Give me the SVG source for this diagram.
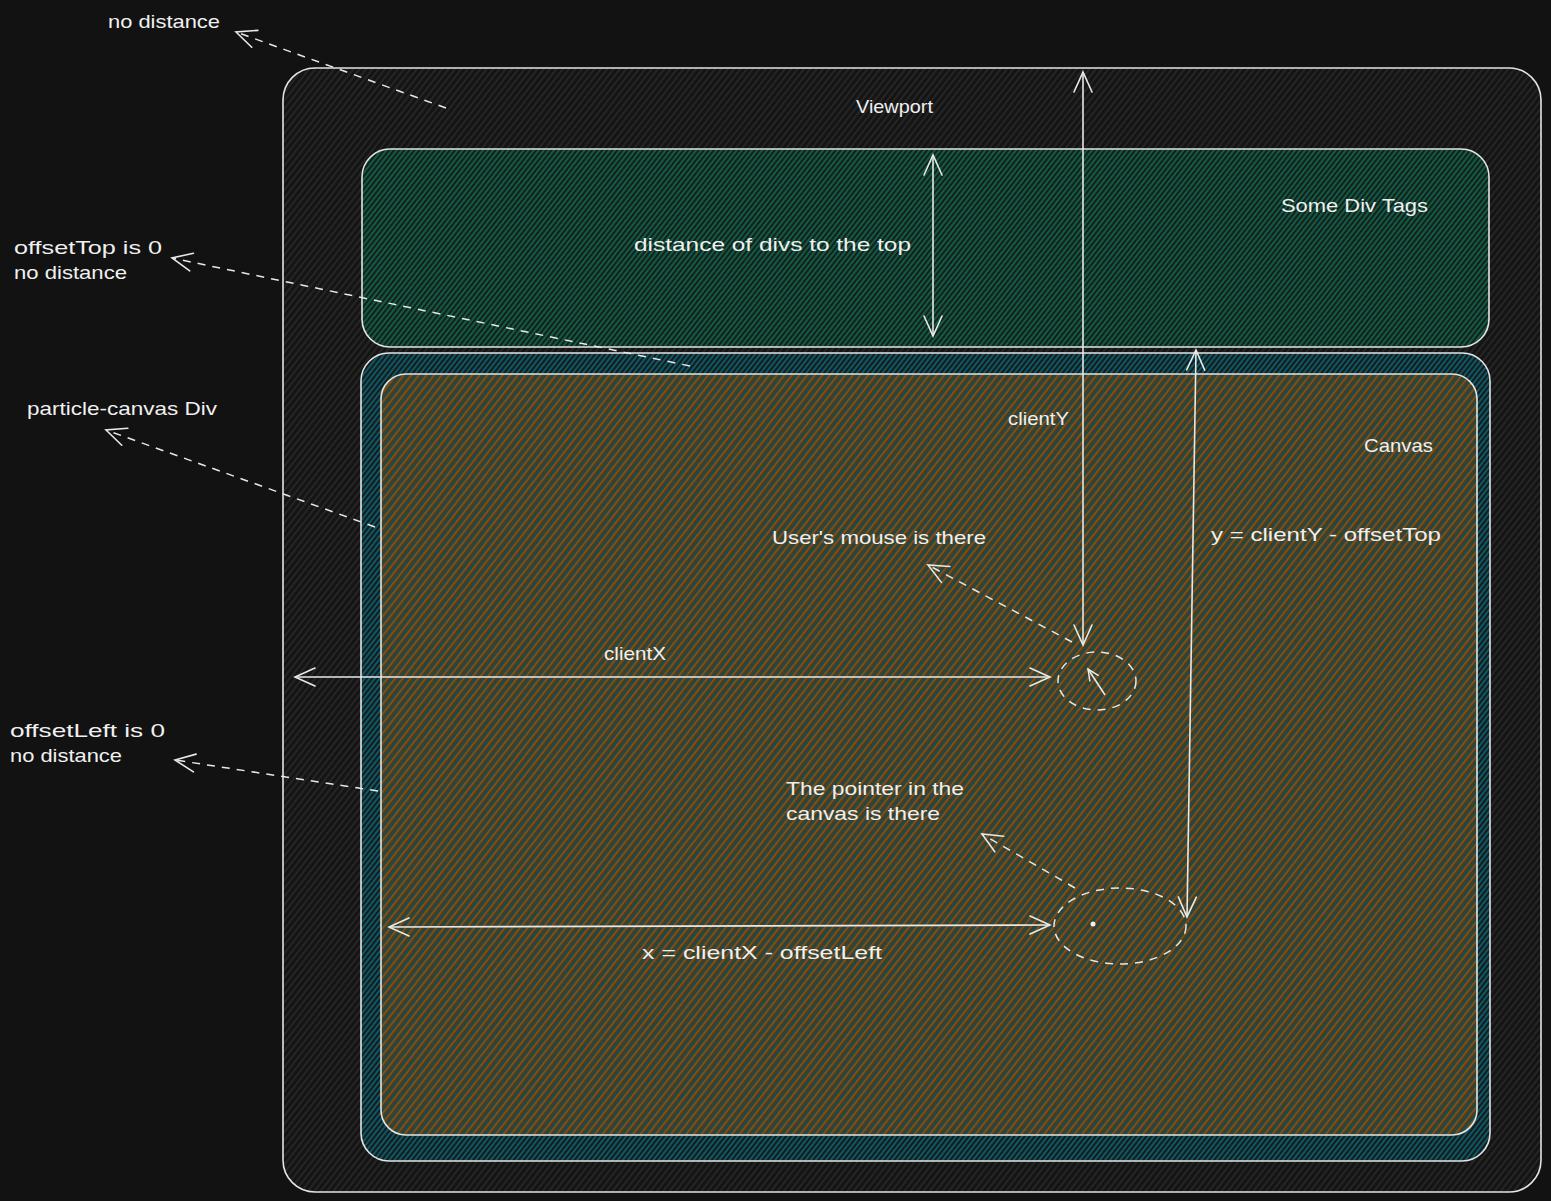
<svg xmlns="http://www.w3.org/2000/svg" width="1551" height="1201" viewBox="0 0 1551 1201">
<defs>
<pattern id="hView" patternUnits="userSpaceOnUse" width="5" height="10" patternTransform="rotate(38)">
<rect width="5" height="10" fill="#141414"/>
<line x1="1" y1="0" x2="1" y2="10" stroke="#2b2b2b" stroke-width="1.4"/>
</pattern>
<pattern id="hGreen" patternUnits="userSpaceOnUse" width="4" height="10" patternTransform="rotate(38)">
<rect width="4" height="10" fill="#15201c"/>
<line x1="1" y1="0" x2="1" y2="10" stroke="#0f6a4e" stroke-width="1.6"/>
</pattern>
<pattern id="hTeal" patternUnits="userSpaceOnUse" width="4" height="10" patternTransform="rotate(38)">
<rect width="4" height="10" fill="#141c1e"/>
<line x1="1" y1="0" x2="1" y2="10" stroke="#0c6674" stroke-width="1.6"/>
</pattern>
<pattern id="hCanvas" patternUnits="userSpaceOnUse" width="6" height="10" patternTransform="rotate(38)">
<rect width="6" height="10" fill="#2c2618"/>
<line x1="1" y1="0" x2="1" y2="10" stroke="#0c5f6c" stroke-width="1.3"/>
<line x1="3" y1="0" x2="3" y2="10" stroke="#8a5214" stroke-width="1.8"/>
<line x1="5" y1="0" x2="5" y2="10" stroke="#5a4a26" stroke-width="1.2"/>
</pattern>
<marker id="ah" viewBox="-22 -12 24 24" markerWidth="24" markerHeight="24" refX="0" refY="0" orient="auto-start-reverse" markerUnits="userSpaceOnUse">
<path d="M -20 -9 L 0 0 L -20 9" fill="none" stroke="#e8e8e8" stroke-width="1.6" stroke-linecap="round"/>
</marker>
<marker id="ahs" viewBox="-12 -8 14 16" markerWidth="14" markerHeight="16" refX="0" refY="0" orient="auto-start-reverse" markerUnits="userSpaceOnUse">
<path d="M -11 -5 L 0 0 L -11 5" fill="none" stroke="#e8e8e8" stroke-width="1.5" stroke-linecap="round"/>
</marker>
</defs>
<style>
.box{stroke:#e4e4e4;stroke-width:1.6}
.t{font-family:"Liberation Sans","DejaVu Sans",sans-serif;font-size:19px;fill:#f0f0f0}
.solid{fill:none;stroke:#e8e8e8;stroke-width:1.6}
.dash{fill:none;stroke:#e8e8e8;stroke-width:1.5;stroke-dasharray:8 7}
</style>
<rect width="1551" height="1201" fill="#121212"/>

<g id="viewport">
<rect class="box" x="283" y="68" width="1258" height="1124" rx="32" fill="url(#hView)"/>
<text class="t" x="856" y="113" textLength="77" lengthAdjust="spacingAndGlyphs">Viewport</text>
</g>
<g id="some-div-tags">
<rect class="box" x="362" y="149" width="1127" height="198" rx="28" fill="url(#hGreen)"/>
<text class="t" x="1281" y="212" textLength="147" lengthAdjust="spacingAndGlyphs">Some Div Tags</text>
</g>
<g id="particle-canvas-div">
<rect class="box" x="361" y="353" width="1129" height="808" rx="28" fill="url(#hTeal)"/>
</g>
<g id="canvas">
<rect class="box" x="381" y="374" width="1096" height="761" rx="25" fill="url(#hCanvas)"/>
<text class="t" x="1364" y="452" textLength="69" lengthAdjust="spacingAndGlyphs">Canvas</text>
</g>

<g id="labels">
<text class="t" x="108" y="28" textLength="112" lengthAdjust="spacingAndGlyphs">no distance</text>
<text class="t" x="14" y="254" textLength="148" lengthAdjust="spacingAndGlyphs">offsetTop is 0</text>
<text class="t" x="14" y="279" textLength="113" lengthAdjust="spacingAndGlyphs">no distance</text>
<text class="t" x="27" y="415" textLength="190" lengthAdjust="spacingAndGlyphs">particle-canvas Div</text>
<text class="t" x="10" y="737" textLength="155" lengthAdjust="spacingAndGlyphs">offsetLeft is 0</text>
<text class="t" x="10" y="762" textLength="112" lengthAdjust="spacingAndGlyphs">no distance</text>
<text class="t" x="634" y="251" textLength="277" lengthAdjust="spacingAndGlyphs">distance of divs to the top</text>
<text class="t" x="1008" y="425" textLength="61" lengthAdjust="spacingAndGlyphs">clientY</text>
<text class="t" x="772" y="544" textLength="214" lengthAdjust="spacingAndGlyphs">User's mouse is there</text>
<text class="t" x="1211" y="541" textLength="230" lengthAdjust="spacingAndGlyphs">y = clientY - offsetTop</text>
<text class="t" x="604" y="660" textLength="62" lengthAdjust="spacingAndGlyphs">clientX</text>
<text class="t" x="786" y="795" textLength="178" lengthAdjust="spacingAndGlyphs">The pointer in the</text>
<text class="t" x="786" y="820" textLength="154" lengthAdjust="spacingAndGlyphs">canvas is there</text>
<text class="t" x="642" y="959" textLength="240" lengthAdjust="spacingAndGlyphs">x = clientX - offsetLeft</text>
</g>

<g id="connectors">
<path class="dash" d="M 446 108 L 236 32" marker-end="url(#ah)"/>
<path class="dash" d="M 690 366 L 172 258" marker-end="url(#ah)"/>
<path class="dash" d="M 375 527 L 106 430" marker-end="url(#ah)"/>
<path class="dash" d="M 378 791 L 175 760" marker-end="url(#ah)"/>
<path class="dash" d="M 1072 642 L 928 565" marker-end="url(#ah)"/>
<path class="dash" d="M 1075 888 L 982 834" marker-end="url(#ah)"/>
<path class="solid" d="M 1083 72 L 1083 645" marker-start="url(#ah)" marker-end="url(#ah)"/>
<path class="solid" d="M 933 155 L 933 336" marker-start="url(#ah)" marker-end="url(#ah)"/>
<path class="solid" d="M 295 677 L 1050 677" marker-start="url(#ah)" marker-end="url(#ah)"/>
<path class="solid" d="M 389 927 L 1050 925" marker-start="url(#ah)" marker-end="url(#ah)"/>
<path class="solid" d="M 1196 350 L 1187 917" marker-start="url(#ah)" marker-end="url(#ah)"/>
<path class="solid" d="M 1105 695 L 1088 669" marker-end="url(#ahs)"/>
<ellipse class="dash" cx="1097" cy="681" rx="39" ry="29"/>
<ellipse class="dash" cx="1120" cy="926" rx="66" ry="38"/>
<circle cx="1093" cy="924" r="2.5" fill="#f0f0f0"/>
</g>
</svg>
